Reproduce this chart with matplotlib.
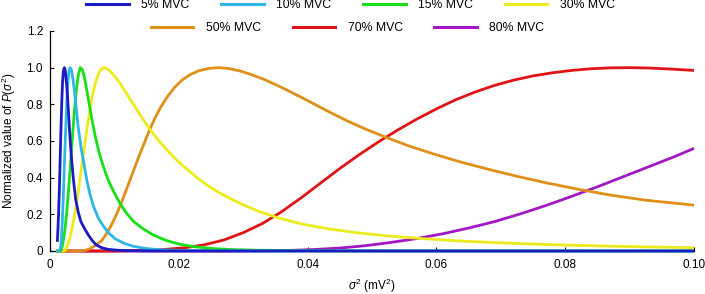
import matplotlib
matplotlib.use("Agg")
import matplotlib.pyplot as plt
from matplotlib.lines import Line2D

plt.rcParams['font.family'] = ['Liberation Sans', 'DejaVu Sans']
plt.rcParams['mathtext.fontset'] = 'custom'
plt.rcParams['mathtext.it'] = 'Liberation Sans:italic'
plt.rcParams['mathtext.rm'] = 'Liberation Sans'

labels = ["5% MVC", "10% MVC", "15% MVC", "30% MVC", "50% MVC", "70% MVC", "80% MVC"]
colors = ["#1c1cc4", "#2db6e6", "#18e018", "#ecec1c", "#e09018", "#e01414", "#a218c4"]

x5 = [0.00114, 0.00125, 0.00135, 0.00145, 0.00155, 0.00165, 0.00175, 0.00185, 0.00195, 0.00205,
      0.00215, 0.00225, 0.00235, 0.00245, 0.0026, 0.0028, 0.0030, 0.0032, 0.0034, 0.0037, 0.0040,
      0.0044, 0.0048, 0.0054, 0.0060, 0.0066, 0.0072, 0.0080, 0.0090, 0.0105, 0.0125, 0.016,
      0.020, 0.1]
y5 = [0.05, 0.13, 0.22, 0.33, 0.46, 0.60, 0.72, 0.83, 0.92, 0.97,
      0.995, 1.0, 0.99, 0.96, 0.90, 0.80, 0.68, 0.57, 0.48, 0.37, 0.28,
      0.21, 0.16, 0.12, 0.085, 0.055, 0.033, 0.018, 0.009, 0.004, 0.0015, 0.0003,
      0.0, 0.0]

x10 = [0.001, 0.0015, 0.0017, 0.0019, 0.00205, 0.0022, 0.00235, 0.0025, 0.00265, 0.0028, 0.00295,
       0.0031, 0.00325, 0.0034, 0.0036, 0.0038, 0.0041, 0.0044, 0.0048, 0.0052, 0.0057, 0.0062,
       0.0068, 0.0075, 0.0083, 0.0092, 0.0102, 0.0115, 0.013, 0.015, 0.0175, 0.021, 0.026,
       0.035, 0.1]
y10 = [0.0, 0.0, 0.03, 0.15, 0.28, 0.43, 0.58, 0.72, 0.84, 0.93, 0.98,
       1.0, 0.995, 0.975, 0.93, 0.87, 0.77, 0.67, 0.57, 0.49, 0.39, 0.31,
       0.24, 0.18, 0.135, 0.095, 0.065, 0.042, 0.025, 0.013, 0.006, 0.0025, 0.001,
       0.0002, 0.0]

x15 = [0.001, 0.0017, 0.0020, 0.0023, 0.0026, 0.0029, 0.0032, 0.0035, 0.0038, 0.0041, 0.0044,
       0.0047, 0.0050, 0.0053, 0.0056, 0.0060, 0.0065, 0.0070, 0.0076, 0.0083, 0.0090, 0.0098,
       0.0107, 0.0118, 0.0130, 0.0145, 0.0160, 0.0180, 0.0200, 0.0225, 0.0250, 0.0280, 0.0320,
       0.0370, 0.045, 0.060, 0.1]
y15 = [0.0, 0.0, 0.04, 0.11, 0.21, 0.34, 0.48, 0.63, 0.77, 0.88, 0.96,
       1.0, 0.99, 0.955, 0.90, 0.82, 0.72, 0.63, 0.54, 0.46, 0.39, 0.33,
       0.27, 0.21, 0.16, 0.12, 0.088, 0.058, 0.038, 0.023, 0.014, 0.008, 0.0045,
       0.002, 0.0008, 0.0002, 0.0]

x30 = [0.001, 0.0022, 0.0026, 0.0030, 0.0034, 0.0038, 0.0042, 0.0046, 0.0050, 0.0054, 0.0058,
       0.0062, 0.0066, 0.0070, 0.0074, 0.0078, 0.0083, 0.0088, 0.0094, 0.0100, 0.0108, 0.0116,
       0.0125, 0.0135, 0.0145, 0.0155, 0.0168, 0.0182, 0.0197, 0.0213, 0.0230, 0.0250, 0.0272,
       0.0297, 0.0325, 0.0355, 0.0390, 0.0430, 0.0475, 0.0525, 0.0580, 0.0640, 0.0710, 0.0780,
       0.0860, 0.0930, 0.1]
y30 = [0.0, 0.0, 0.02, 0.06, 0.12, 0.19, 0.28, 0.38, 0.48, 0.58, 0.68,
       0.77, 0.85, 0.91, 0.955, 0.985, 1.0, 0.995, 0.98, 0.955, 0.92, 0.875,
       0.825, 0.77, 0.715, 0.665, 0.605, 0.55, 0.495, 0.445, 0.395, 0.345, 0.30,
       0.256, 0.215, 0.18, 0.148, 0.122, 0.10, 0.082, 0.067, 0.054, 0.043, 0.034,
       0.027, 0.022, 0.018]

x50 = [0.001, 0.0045, 0.0055, 0.0062, 0.0068, 0.0074, 0.0080, 0.0086, 0.0092, 0.0098, 0.0104,
       0.0110, 0.0117, 0.0124, 0.0131, 0.0138, 0.0146, 0.0154, 0.0163, 0.0172, 0.0182, 0.0193,
       0.0205, 0.0218, 0.0232, 0.0247, 0.0262, 0.0278, 0.0295, 0.0313, 0.0333, 0.0355, 0.0378,
       0.0403, 0.0430, 0.0460, 0.0490, 0.0523, 0.0558, 0.0595, 0.0635, 0.0678, 0.0722, 0.0770,
       0.0820, 0.0870, 0.0925, 0.1]
y50 = [0.0, 0.0, 0.004, 0.012, 0.025, 0.04, 0.055, 0.085, 0.12, 0.16, 0.205,
       0.255, 0.32, 0.385, 0.45, 0.515, 0.585, 0.655, 0.725, 0.785, 0.84, 0.89,
       0.932, 0.963, 0.984, 0.996, 1.0, 0.995, 0.982, 0.962, 0.935, 0.90, 0.86,
       0.815, 0.765, 0.712, 0.665, 0.618, 0.572, 0.53, 0.488, 0.448, 0.41, 0.372,
       0.337, 0.305, 0.277, 0.25]

x70 = [0.001, 0.009, 0.012, 0.015, 0.018, 0.021, 0.024, 0.027, 0.030, 0.033, 0.036,
       0.039, 0.042, 0.045, 0.048, 0.051, 0.054, 0.057, 0.060, 0.063, 0.066, 0.069,
       0.072, 0.075, 0.078, 0.081, 0.084, 0.087, 0.090, 0.093, 0.096, 0.1]
y70 = [0.0, 0.0, 0.001, 0.004, 0.009, 0.018, 0.034, 0.06, 0.10, 0.15, 0.215,
       0.29, 0.37, 0.45, 0.525, 0.595, 0.66, 0.72, 0.775, 0.825, 0.867, 0.903,
       0.932, 0.955, 0.972, 0.985, 0.994, 0.999, 1.0, 0.998, 0.993, 0.985]

x80 = [0.001, 0.028, 0.033, 0.037, 0.041, 0.045, 0.049, 0.053, 0.057, 0.061, 0.065,
       0.069, 0.073, 0.077, 0.081, 0.085, 0.089, 0.093, 0.097, 0.1]
y80 = [0.0, 0.0, 0.001, 0.003, 0.008, 0.016, 0.029, 0.047, 0.068, 0.094, 0.125,
       0.16, 0.202, 0.248, 0.298, 0.35, 0.405, 0.46, 0.515, 0.56]

xs = [x5, x10, x15, x30, x50, x70, x80]
ys = [y5, y10, y15, y30, y50, y70, y80]

xticks = [0, 0.02, 0.04, 0.06, 0.08, 0.10]
xticklabels = ["0", "0.02", "0.04", "0.06", "0.08", "0.10"]
yticks = [0, 0.2, 0.4, 0.6, 0.8, 1.0, 1.2]
yticklabels = ["0", "0.2", "0.4", "0.6", "0.8", "1.0", "1.2"]

fig = plt.figure(figsize=(7.05, 2.94), dpi=100)
ax = fig.add_axes([0.0709, 0.1463, 0.9135, 0.7483])

for i in reversed(range(len(labels))):
    ax.plot(xs[i], ys[i], color=colors[i], lw=2.0, clip_on=False,
            solid_capstyle='butt', solid_joinstyle='round',
            zorder=3 + (len(labels) - i) * 0.1)

ax.set_xlim(0, 0.1)
ax.set_ylim(0, 1.2)
ax.set_xticks(xticks)
ax.set_xticklabels(xticklabels)
ax.set_yticks(yticks)
ax.set_yticklabels(yticklabels)
ax.tick_params(direction='in', length=3, width=0.8, labelsize=8.5)
ax.tick_params(axis='x', pad=6)
ax.tick_params(axis='y', pad=5)
for s in ['top', 'right']:
    ax.spines[s].set_visible(False)
for s in ['left', 'bottom']:
    ax.spines[s].set_linewidth(0.9)

ax.set_xlabel(r"$\sigma^2$ (mV$^2$)", fontsize=8.5, labelpad=4)
ax.set_ylabel(r"Normalized value of $P(\sigma^2)$", fontsize=8.5, labelpad=6)

handles = [Line2D([0], [0], color=c, lw=2.2) for c in colors]
common = dict(loc='center', frameon=False, fontsize=8.8, handlelength=3.5,
              handletextpad=1.0, columnspacing=2.6, borderaxespad=0, borderpad=0)
leg1 = fig.legend(handles[:4], labels[:4], bbox_to_anchor=(0.497, 0.982), ncol=4, **common)
leg2 = fig.legend(handles[4:], labels[4:], bbox_to_anchor=(0.493, 0.905), ncol=3, **common)

fig.savefig("out.png", dpi=100)
